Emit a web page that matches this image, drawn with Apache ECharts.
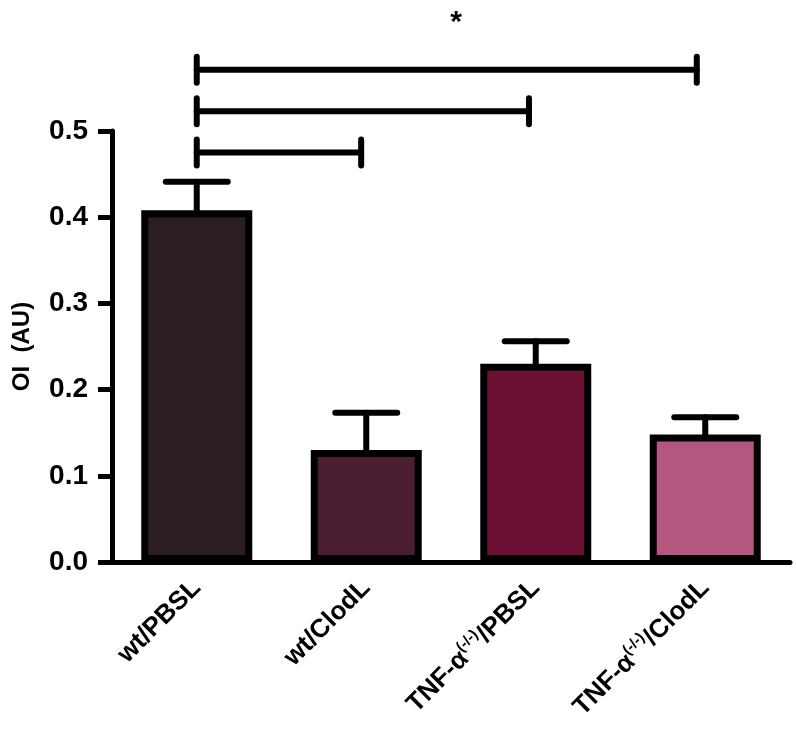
<!DOCTYPE html>
<html>
<head>
<meta charset="utf-8">
<script src="https://cdn.jsdelivr.net/npm/echarts@6/dist/echarts.min.js"></script>
<style>
  html, body { margin: 0; padding: 0; background: #fff; }
  #chart { width: 796px; height: 736px; }
</style>
</head>
<body>
<div id="chart"></div>
<script>
// data
var categories = ['wt/PBSL', 'wt/ClodL', 'TNF-α{sup|(-/-)}/PBSL', 'TNF-α{sup|(-/-)}/ClodL'];
var means = [0.408, 0.130, 0.230, 0.148];
var upper = [0.441, 0.173, 0.256, 0.168];   // mean + SEM
var barColors = ['#2b1d23', '#4b1d32', '#6c1036', '#b3577f'];
// significance brackets: [from, to, level] (x in category index units)
var brackets = [[0, 0.97, 0.475], [0, 1.96, 0.523], [0, 2.95, 0.571]];
var star = [1.53, 0.626];

var font = '"Liberation Sans", Arial, sans-serif';

var errData = [];
for (var i = 0; i < means.length; i++) {
    errData.push([i, means[i], upper[i]]);
}

var option = {
    backgroundColor: '#fff',
    animation: false,
    grid: { left: 112, right: 6, top: 131, bottom: 174, containLabel: false, outerBoundsMode: 'none' },
    xAxis: [{
        type: 'category',
        data: categories,
        axisLine: { lineStyle: { color: '#000', width: 5 } },
        axisTick: { alignWithLabel: true, length: 12, lineStyle: { color: '#000', width: 5 } },
        axisLabel: {
            interval: 0,
            rotate: 45,
            margin: 22,
            color: '#000',
            fontSize: 26,
            fontWeight: 'bold',
            fontFamily: font,
            rich: {
                sup: { fontSize: 15, fontWeight: 'bold', fontFamily: font, padding: [0, 0, 16, 0] }
            }
        }
    }, {
        // hidden helper axis so brackets can sit between category centres
        type: 'value',
        min: -0.5,
        max: categories.length - 0.5,
        show: false
    }],
    yAxis: {
        type: 'value',
        min: 0,
        max: 0.5,
        interval: 0.1,
        name: 'OI  (AU)',
        nameLocation: 'middle',
        nameGap: 78,
        nameTextStyle: { color: '#000', fontSize: 24, fontWeight: 'bold', fontFamily: font },
        axisLine: { show: true, onZero: false, lineStyle: { color: '#000', width: 5 } },
        axisTick: { show: true, length: 14, lineStyle: { color: '#000', width: 5 } },
        splitLine: { show: false },
        axisLabel: {
            margin: 24,
            color: '#000',
            fontSize: 28,
            fontWeight: 'bold',
            fontFamily: font,
            formatter: function (v) { return v.toFixed(1); }
        }
    },
    series: [{
        type: 'bar',
        barWidth: 111,
        data: means.map(function (v, i) {
            return { value: v, itemStyle: { color: barColors[i] } };
        }),
        itemStyle: { borderColor: '#000', borderWidth: 7 },
        z: 2
    }, {
        // error bars (upper only)
        type: 'custom',
        data: errData,
        z: 1,
        renderItem: function (params, api) {
            var x = api.value(0);
            var top = api.coord([x, api.value(1)]);
            var cap = api.coord([x, api.value(2)]);
            var half = 31;
            var st = { stroke: '#000', lineWidth: 6, lineCap: 'round' };
            return {
                type: 'group',
                children: [
                    { type: 'line', shape: { x1: top[0], y1: top[1], x2: cap[0], y2: cap[1] }, style: st },
                    { type: 'line', shape: { x1: cap[0] - half, y1: cap[1], x2: cap[0] + half, y2: cap[1] }, style: st }
                ]
            };
        }
    }, {
        // significance brackets
        type: 'custom',
        xAxisIndex: 1,
        data: brackets,
        clip: false,
        z: 3,
        renderItem: function (params, api) {
            var a = api.coord([api.value(0), api.value(2)]);
            var b = api.coord([api.value(1), api.value(2)]);
            var h = 13;
            var st = { stroke: '#000', lineWidth: 6, lineCap: 'round' };
            var kids = [
                { type: 'line', shape: { x1: a[0], y1: a[1], x2: b[0], y2: b[1] }, style: st },
                { type: 'line', shape: { x1: a[0], y1: a[1] - h, x2: a[0], y2: a[1] + h }, style: st },
                { type: 'line', shape: { x1: b[0], y1: b[1] - h, x2: b[0], y2: b[1] + h }, style: st }
            ];
            if (params.dataIndex === brackets.length - 1) {
                var s = api.coord(star);
                kids.push({
                    type: 'text',
                    style: {
                        x: s[0], y: s[1], text: '*',
                        fill: '#000', fontSize: 30, fontWeight: 'bold', fontFamily: font,
                        align: 'center', verticalAlign: 'middle'
                    }
                });
            }
            return { type: 'group', children: kids };
        }
    }]
};

var myChart = echarts.init(document.getElementById('chart'));
myChart.setOption(option);
</script>
</body>
</html>
